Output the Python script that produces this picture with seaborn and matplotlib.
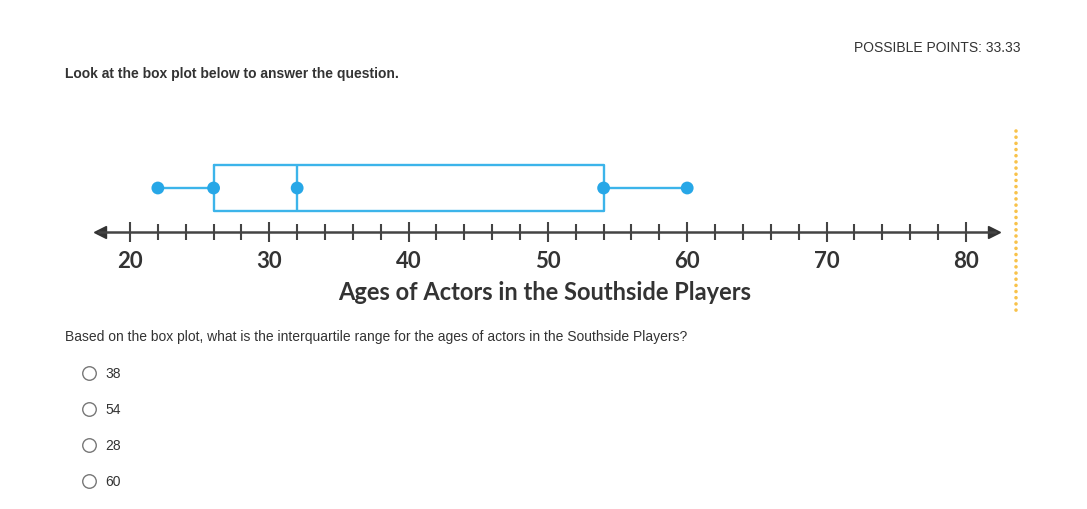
import numpy as np
import matplotlib
matplotlib.use("Agg")
import matplotlib.pyplot as plt
import seaborn as sns
from matplotlib.ticker import FixedLocator

# box plot data: ages of actors (five-number summary)
ages = [22, 26, 32, 54, 60]
major_ticks = [20, 30, 40, 50, 60, 70, 80]
minor_ticks = [t for t in range(20, 81, 2) if t % 10 != 0]
axis_title = "Ages of Actors in the Southside Players"

header = "POSSIBLE POINTS: 33.33"
prompt = "Look at the box plot below to answer the question."
question = "Based on the box plot, what is the interquartile range for the ages of actors in the Southside Players?"
choices = ["38", "54", "28", "60"]

sns.set_theme(style="white")
plt.rcParams['font.family'] = ['Liberation Sans', 'DejaVu Sans']

W, H = 1087, 510
fig = plt.figure(figsize=(W / 100, H / 100), dpi=100)
fig.patch.set_facecolor("white")

# x mapping shared by the chart axes: 20 -> px 130, ~13.93 px per year
px_per = 13.93
xlim = (20 - 130 / px_per, 20 + (W - 130) / px_per)

# page layer in pixel coordinates
bg = fig.add_axes([0, 0, 1, 1])
bg.set_xlim(0, W)
bg.set_ylim(H, 0)
bg.axis("off")

bg.text(1021, 48, header, ha="right", va="center", fontsize=10, color="#333333")
bg.text(65, 74, prompt, ha="left", va="center", fontsize=10, fontweight="bold", color="#333333")
bg.text(65, 337, question, ha="left", va="center", fontsize=10, color="#333333")
choice_y = [374, 410, 446, 482]
bg.scatter([89] * len(choices), choice_y, s=95, facecolor="white", edgecolor="#777777", linewidth=1)
for yy, c in zip(choice_y, choices):
    bg.text(105, yy, c, ha="left", va="center", fontsize=10, color="#333333")
bg.plot([1016, 1016], [132, 313], color="#f8c24a", linewidth=2.6, linestyle=(0, (0.01, 1.7)),
        dash_capstyle="round")

# box plot
box_ax = fig.add_axes([0, (H - 217) / H, 1, 56 / H])
sns.boxplot(x=ages, ax=box_ax, width=46 / 56, fill=False, color="#3cb4ea", linewidth=1.7,
            showcaps=False, whis=1.5)
sns.scatterplot(x=ages, y=[0] * len(ages), ax=box_ax, s=85, color="#27a7e7",
                edgecolor="none", zorder=5)
box_ax.set_xlim(*xlim)
box_ax.set_ylim(0.5, -0.5)
box_ax.axis("off")

# number line
line_ax = fig.add_axes([0, (H - 233) / H, 1, 0.02])
line_ax.set_xlim(*xlim)
line_ax.set_ylim(0, 1)
line_ax.patch.set_visible(False)
for s in ["top", "left", "right"]:
    line_ax.spines[s].set_visible(False)
line_ax.spines["bottom"].set_color("#444444")
line_ax.spines["bottom"].set_linewidth(1.8)
line_ax.spines["bottom"].set_bounds(17.8, 82.1)
line_ax.set_yticks([])
line_ax.set_xticks(major_ticks)
line_ax.set_xticklabels([str(t) for t in major_ticks], family=["Lato", "DejaVu Sans"],
                        fontweight="bold", fontsize=16, color="#333333")
line_ax.xaxis.set_minor_locator(FixedLocator(minor_ticks))
line_ax.tick_params(axis="x", which="major", direction="inout", length=15, width=1.5,
                    color="#444444", pad=5.5, bottom=True)
line_ax.tick_params(axis="x", which="minor", direction="inout", length=11, width=1.5,
                    color="#444444", bottom=True)
line_ax.plot([17.85], [0], marker="<", markersize=8, color="#333333", clip_on=False)
line_ax.plot([82.05], [0], marker=">", markersize=8, color="#333333", clip_on=False)

bg.text(545, 293, axis_title, ha="center", va="center", family=["Lato", "DejaVu Sans"],
        fontweight="bold", fontsize=17, color="#333333")

fig.savefig("out.png", dpi=100)
